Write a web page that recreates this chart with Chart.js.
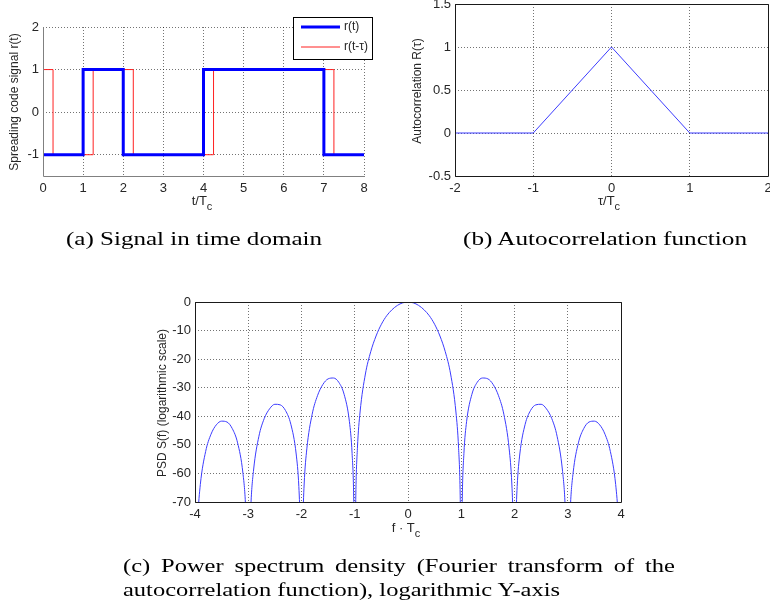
<!DOCTYPE html>
<html><head><meta charset="utf-8">
<script src="https://cdn.jsdelivr.net/npm/chart.js@4.4.0/dist/chart.umd.min.js"></script>
<style>
html,body{margin:0;padding:0;background:#fff;}
#wrap{position:relative;width:770px;height:606px;overflow:hidden;background:#fff;}
canvas{position:absolute;left:0;top:0;}
.cap{position:absolute;font-family:"Liberation Serif","DejaVu Serif",serif;font-size:19px;line-height:19px;color:#000;white-space:nowrap;transform-origin:0 0;}
.just{text-align:justify;text-align-last:justify;}
</style></head><body>
<div id="wrap">
<canvas id="ca" width="770" height="606"></canvas>
<canvas id="cb" width="770" height="606"></canvas>
<canvas id="cc" width="770" height="606"></canvas>
<div class="cap" id="capA">(a) Signal in time domain</div>
<div class="cap" id="capB">(b) Autocorrelation function</div>
<div class="cap just" id="capC1">(c) Power spectrum density (Fourier transform of the</div>
<div class="cap" id="capC2">autocorrelation function), logarithmic Y-axis</div>
</div>
<script>
// ---------- data ----------
const signalTimes   = [0, 1, 2, 4, 7, 8];
const signalValues  = [-1, 1, -1, 1, -1, -1];
const delayedTimes  = [0, 0.25, 1.25, 2.25, 4.25, 7.25, 8];
const delayedValues = [1, -1, 1, -1, 1, -1, -1];

const acfLags   = [-2, -1, 0, 1, 2];
const acfValues = [0, 0, 1, 0, 0];

const psdFreq = [-4, -3.95, -3.9, -3.8, -3.7, -3.6, -3.5, -3.4, -3.3, -3.2, -3.1, -3.05,
  -3, -2.95, -2.9, -2.8, -2.7, -2.6, -2.5, -2.4, -2.3, -2.2, -2.1, -2.05, -2.02,
  -2, -1.98, -1.95, -1.9, -1.8, -1.7, -1.6, -1.5, -1.4, -1.3, -1.2, -1.1, -1.05, -1.02,
  -1, -0.98, -0.95, -0.9, -0.8, -0.7, -0.6, -0.5, -0.4, -0.3, -0.2, -0.1,
  0, 0.1, 0.2, 0.3, 0.4, 0.5, 0.6, 0.7, 0.8, 0.9, 0.95, 0.98,
  1, 1.02, 1.05, 1.1, 1.2, 1.3, 1.4, 1.5, 1.6, 1.7, 1.8, 1.9, 1.95, 1.98,
  2, 2.02, 2.05, 2.1, 2.2, 2.3, 2.4, 2.5, 2.6, 2.7, 2.8, 2.9, 2.95,
  3, 3.05, 3.1, 3.2, 3.3, 3.4, 3.5, 3.6, 3.7, 3.8, 3.9, 3.95, 4];
const psdDb = [-100, -76.0, -63.9, -52.3, -46.3, -43.0, -41.7, -42.0, -44.3, -49.3, -59.9, -71.5,
  -100, -70.9, -58.8, -47.0, -40.8, -37.4, -35.8, -36.0, -38.0, -42.8, -53.2, -64.6, -80.2,
  -100, -79.8, -63.7, -51.4, -39.3, -32.8, -28.9, -26.9, -26.6, -28.1, -32.3, -41.9, -53.0, -68.3,
  -100, -67.6, -51.2, -38.5, -25.2, -17.4, -11.9, -7.8, -4.8, -2.7, -1.2, -0.3,
  0, -0.3, -1.2, -2.7, -4.8, -7.8, -11.9, -17.4, -25.2, -38.5, -51.2, -67.6,
  -100, -68.3, -53.0, -41.9, -32.3, -28.1, -26.6, -26.9, -28.9, -32.8, -39.3, -51.4, -63.7, -79.8,
  -100, -80.2, -64.6, -53.2, -42.8, -38.0, -36.0, -35.8, -37.4, -40.8, -47.0, -58.8, -70.9,
  -100, -71.5, -59.9, -49.3, -44.3, -42.0, -41.7, -43.0, -46.3, -52.3, -63.9, -76.0, -100];

const ticksAx = [0, 1, 2, 3, 4, 5, 6, 7, 8];
const ticksAy = [-1, 0, 1, 2];
const ticksBx = [-2, -1, 0, 1, 2];
const ticksBy = [-0.5, 0, 0.5, 1, 1.5];
const ticksCx = [-4, -3, -2, -1, 0, 1, 2, 3, 4];
const ticksCy = [-70, -60, -50, -40, -30, -20, -10, 0];

const legendLabels = ['r(t)', 'r(t-\u03C4)'];

// ---------- helpers ----------
const SANS = '"Liberation Sans", Arial, Helvetica, sans-serif';
const TXT = '#262626';
const GRID = 'rgba(0,0,0,0.55)';
const pts = (xs, ys) => xs.map((x, i) => ({x: x, y: ys[i]}));

function axis(min, max, ticks, fit, isX) {
  return {
    type: 'linear', min: min, max: max,
    afterBuildTicks: s => { s.ticks = ticks.map(v => ({value: v})); },
    afterFit: s => {
      if (isX) { s.height = fit; s.paddingLeft = 0; s.paddingRight = 0; }
      else { s.width = fit; s.paddingTop = 0; s.paddingBottom = 0; }
    },
    grid: {color: GRID, lineWidth: 1, drawTicks: false},
    border: {display: false, dash: [1, 2]},
    ticks: {padding: isX ? 5 : 4, color: TXT, font: {family: SANS, size: 13}, maxRotation: 0,
      autoSkip: false, callback: v => String(v)}
  };
}

function subText(ctx, main, sub, cx, base, size) {
  ctx.font = size + 'px ' + SANS;
  const w1 = ctx.measureText(main).width;
  ctx.font = (size - 2) + 'px ' + SANS;
  const w2 = ctx.measureText(sub).width;
  const x0 = cx - (w1 + w2) / 2;
  ctx.textAlign = 'left'; ctx.textBaseline = 'alphabetic';
  ctx.font = size + 'px ' + SANS;
  ctx.fillText(main, x0, base);
  ctx.font = (size - 2) + 'px ' + SANS;
  ctx.fillText(sub, x0 + w1, base + 5);
}

function deco(d) {
  return {
    id: 'deco',
    afterDraw(chart) {
      const ctx = chart.ctx, a = chart.chartArea;
      ctx.save();
      ctx.lineWidth = 1; ctx.strokeStyle = d.axisColor; ctx.setLineDash([]);
      ctx.beginPath();
      if (d.box) {
        ctx.rect(a.left + 0.5, a.top + 0.5, a.right - a.left, a.bottom - a.top);
      } else {
        ctx.moveTo(a.left + 0.5, a.top);
        ctx.lineTo(a.left + 0.5, a.bottom + 0.5);
        ctx.lineTo(a.right + 1, a.bottom + 0.5);
      }
      ctx.stroke();
      ctx.fillStyle = TXT;
      subText(ctx, d.xMain, d.xSub, d.xCx, d.xBase, 13);
      ctx.save();
      ctx.translate(d.yCx, d.yCy);
      ctx.rotate(-Math.PI / 2);
      ctx.font = '12px ' + SANS;
      ctx.textAlign = 'center'; ctx.textBaseline = 'middle';
      ctx.fillText(d.yTitle, 0, 0);
      ctx.restore();
      if (d.legend) {
        const L = d.legend;
        ctx.fillStyle = '#fff';
        ctx.fillRect(L.x, L.y, L.w, L.h);
        ctx.strokeStyle = '#000';
        ctx.strokeRect(L.x + 0.5, L.y + 0.5, L.w, L.h);
        chart.data.datasets.forEach((ds, i) => {
          const y = L.rows[i];
          ctx.strokeStyle = ds.borderColor; ctx.lineWidth = ds.borderWidth;
          ctx.beginPath(); ctx.moveTo(L.x + 8, y); ctx.lineTo(L.x + 47, y); ctx.stroke();
          ctx.fillStyle = TXT; ctx.font = '12px ' + SANS;
          ctx.textAlign = 'left'; ctx.textBaseline = 'middle';
          ctx.fillText(ds.label, L.x + 51, y);
        });
      }
      ctx.restore();
    }
  };
}

function base(pad, xs, ys) {
  return {
    responsive: false, animation: false, devicePixelRatio: 1,
    layout: {padding: pad},
    plugins: {legend: {display: false}, tooltip: {enabled: false}},
    elements: {point: {radius: 0}},
    scales: {x: xs, y: ys}
  };
}

// ---------- chart (a) ----------
new Chart(document.getElementById('ca'), {
  type: 'line',
  data: {datasets: [
    {label: legendLabels[0], data: pts(signalTimes, signalValues), stepped: 'before',
     borderColor: '#0000ff', borderWidth: 3},
    {label: legendLabels[1], data: pts(delayedTimes, delayedValues), stepped: 'before',
     borderColor: '#ff2020', borderWidth: 1}
  ]},
  options: base({left: 3, top: 27, right: 406, bottom: 400},
    axis(0, 8, ticksAx, 30, true), axis(-1.5, 2, ticksAy, 40, false)),
  plugins: [deco({box: false, axisColor: '#808080', xMain: 't/T', xSub: 'c', xCx: 202, xBase: 205,
    yTitle: 'Spreading code signal r(t)', yCx: 15, yCy: 102,
    legend: {x: 293, y: 17, w: 79, h: 42, rows: [27, 47]}})]
});

// ---------- chart (b) ----------
new Chart(document.getElementById('cb'), {
  type: 'line',
  data: {datasets: [
    {label: 'R', data: pts(acfLags, acfValues), borderColor: '#3c3cff', borderWidth: 1, tension: 0}
  ]},
  options: base({left: 415, top: 4, right: 2, bottom: 400},
    axis(-2, 2, ticksBx, 30, true), axis(-0.5, 1.5, ticksBy, 40, false)),
  plugins: [deco({box: true, axisColor: '#1a1a1a', xMain: '\u03C4/T', xSub: 'c', xCx: 609, xBase: 205,
    yTitle: 'Autocorrelation R(\u03C4)', yCx: 418, yCy: 91})]
});

// ---------- chart (c) ----------
new Chart(document.getElementById('cc'), {
  type: 'line',
  data: {datasets: [
    {label: 'S', data: pts(psdFreq, psdDb), borderColor: '#3c3cff', borderWidth: 1,
     cubicInterpolationMode: 'monotone'}
  ]},
  options: base({left: 155, top: 302, right: 149, bottom: 74},
    axis(-4, 4, ticksCx, 30, true), axis(-70, 0, ticksCy, 40, false)),
  plugins: [deco({box: true, axisColor: '#1a1a1a', xMain: 'f \u00B7 T', xSub: 'c', xCx: 406, xBase: 532,
    yTitle: 'PSD S(f) (logarithmic scale)', yCx: 163, yCy: 403})]
});

// ---------- captions ----------
function place(id, left, baseline, width) {
  const el = document.getElementById(id);
  el.style.left = left + 'px';
  el.style.top = (baseline - 16) + 'px';
  const w = el.getBoundingClientRect().width;
  const k = width / w;
  el.style.transform = 'scaleX(' + k + ')';
  return k;
}
place('capA', 66, 245, 256);
place('capB', 463, 245, 284);
const k2 = place('capC2', 123, 596, 437);
const c1 = document.getElementById('capC1');
c1.style.left = '123px';
c1.style.top = (572 - 16) + 'px';
c1.style.width = (552 / k2) + 'px';
c1.style.transform = 'scaleX(' + k2 + ')';
</script>
</body></html>
